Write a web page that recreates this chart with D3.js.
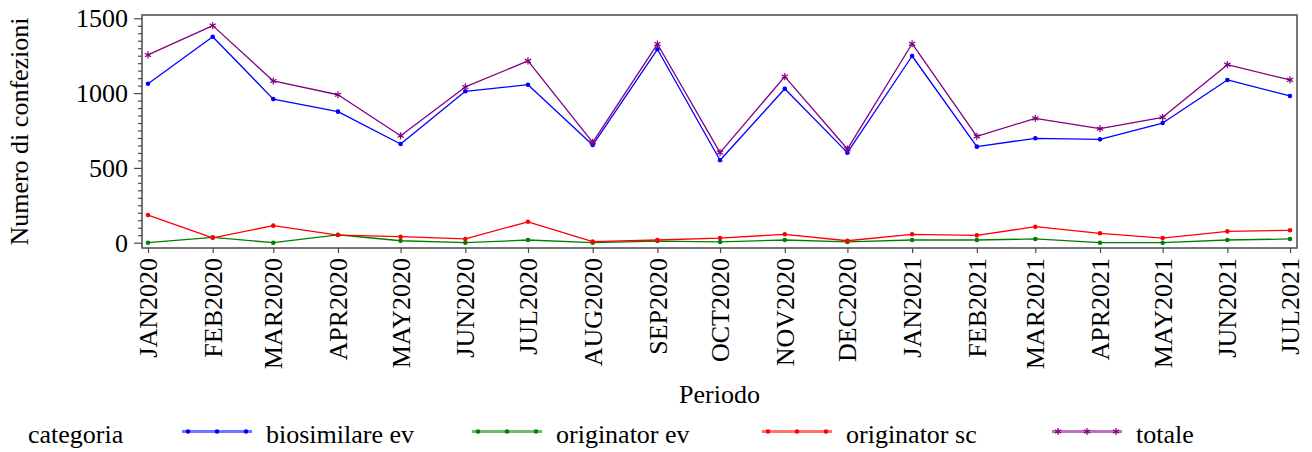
<!DOCTYPE html>
<html>
<head>
<meta charset="utf-8">
<script src="https://cdn.jsdelivr.net/npm/d3@7"></script>
<style>
  html, body { margin: 0; padding: 0; background: #fff; }
  svg { display: block; }
  svg text { font-family: "Liberation Serif", "Times New Roman", Times, serif !important; }
</style>
</head>
<body>
<svg id="chart" width="1312" height="452"></svg>
<script>
// ---- data ----
const periods = ["JAN2020","FEB2020","MAR2020","APR2020","MAY2020","JUN2020","JUL2020","AUG2020","SEP2020","OCT2020","NOV2020","DEC2020","JAN2021","FEB2021","MAR2021","APR2021","MAY2021","JUN2021","JUL2021"];
const periodDates = ["2020-01-01","2020-02-01","2020-03-01","2020-04-01","2020-05-01","2020-06-01","2020-07-01","2020-08-01","2020-09-01","2020-10-01","2020-11-01","2020-12-01","2021-01-01","2021-02-01","2021-03-01","2021-04-01","2021-05-01","2021-06-01","2021-07-01"];
const biosimilareEv = [1063,1377,960,876,660,1012,1056,653,1293,551,1029,602,1248,642,698,691,800,1088,981];
const originatorEv  = [0,36,0,53,13,0,18,0,11,5,18,5,18,18,25,0,0,18,25];
const originatorSc  = [185,33,114,51,40,25,140,7,18,31,56,13,56,49,107,63,31,76,83];
const totale        = [1255,1451,1081,989,715,1041,1215,671,1328,602,1110,626,1330,711,831,762,838,1190,1088];
const seriesNames   = ["biosimilare ev","originator ev","originator sc","totale"];
const seriesValues  = [biosimilareEv, originatorEv, originatorSc, totale];
const seriesColors  = ["#0000ff","#008000","#ff0000","#800080"];
const seriesMarkers = ["circle","circle","circle","asterisk"];
const yTicks = [0,500,1000,1500];
const yMinorStep = 50;
const xTitle = "Periodo";
const yTitle = "Numero di confezioni";
const legendTitle = "categoria";

// ---- layout ----
const svg = d3.select("#chart");
const frame = {left: 142, right: 1297, top: 15, bottom: 248};
const parse = d3.utcParse("%Y-%m-%d");
const dates = periodDates.map(parse);

const x = d3.scaleUtc().domain(d3.extent(dates)).range([148, 1290]);
const y = d3.scaleLinear().domain([0, 1500]).range([242.7, 18.3]);

const FONT = 26;
const FF = "'Liberation Serif', 'Times New Roman', Times, serif";
const frameColor = "#4a4a4a";

// frame
svg.append("rect")
  .attr("x", frame.left).attr("y", frame.top)
  .attr("width", frame.right - frame.left).attr("height", frame.bottom - frame.top)
  .attr("fill", "none").attr("stroke", frameColor).attr("stroke-width", 1.5);

// y axis major
const yAxisG = svg.append("g").attr("transform", `translate(${frame.left},0)`)
  .call(d3.axisLeft(y).tickValues(yTicks).tickSize(8).tickPadding(6).tickFormat(d3.format("d")));
// y axis minor
const minorVals = d3.range(0, 1500 + 1, yMinorStep).filter(v => !yTicks.includes(v));
const yMinorG = svg.append("g").attr("transform", `translate(${frame.left},0)`)
  .call(d3.axisLeft(y).tickValues(minorVals).tickSize(4).tickFormat(""));
[yAxisG, yMinorG].forEach(g => {
  g.attr("font-family", null).attr("font-size", null);
  g.select(".domain").remove();
  g.selectAll("line").attr("stroke", frameColor).attr("stroke-width", 1.2);
});
yAxisG.selectAll("text")
  .attr("font-size", FONT).attr("fill", "#000")
  .style("font-family", FF);

// x axis
const xAxisG = svg.append("g").attr("transform", `translate(0,${frame.bottom})`)
  .call(d3.axisBottom(x).tickValues(dates).tickSize(5).tickFormat((d, i) => periods[i]));
xAxisG.attr("font-family", null).attr("font-size", null);
xAxisG.select(".domain").remove();
xAxisG.selectAll("line").attr("stroke", frameColor).attr("stroke-width", 1.2);
xAxisG.selectAll("text")
  .attr("font-size", FONT).attr("fill", "#000")
  .style("font-family", FF)
  .attr("text-anchor", "end")
  .attr("transform", "translate(0,10) rotate(-90)")
  .attr("x", 0).attr("y", 0).attr("dy", "0.33em");

// axis titles
svg.append("text").attr("x", (frame.left + frame.right) / 2).attr("y", 403)
  .attr("text-anchor", "middle").attr("font-size", FONT).style("font-family", FF).text(xTitle);
svg.append("text").attr("transform", `translate(28,${(frame.top + frame.bottom) / 2}) rotate(-90)`)
  .attr("text-anchor", "middle").attr("font-size", FONT).style("font-family", FF).text(yTitle);

// marker helper
function drawMarker(g, type, cx, cy, color) {
  if (type === "circle") {
    g.append("circle").attr("cx", cx).attr("cy", cy).attr("r", 2.3).attr("fill", color);
  } else {
    g.append("path").attr("transform", `translate(${cx},${cy})`)
      .attr("d", d3.symbol(d3.symbolAsterisk, 36)())
      .attr("fill", "none").attr("stroke", color).attr("stroke-width", 1.2);
  }
}

// series
const line = d3.line().x(d => x(d.date)).y(d => y(d.value));
const plot = svg.append("g");
seriesNames.forEach((name, si) => {
  const pts = seriesValues[si].map((v, i) => ({date: dates[i], value: v}));
  const g = plot.append("g");
  g.append("path").datum(pts).attr("d", line)
    .attr("fill", "none").attr("stroke", seriesColors[si]).attr("stroke-width", 1.3)
    .attr("stroke-linejoin", "round");
  pts.forEach(p => drawMarker(g, seriesMarkers[si], x(p.date), y(p.value), seriesColors[si]));
});

// legend
const legendY = 431.5;
svg.append("text").attr("x", 28).attr("y", 443).attr("font-size", FONT).style("font-family", FF).text(legendTitle);
seriesNames.forEach((name, si) => {
  const x0 = 182 + si * 290;
  const g = svg.append("g");
  g.append("line").attr("x1", x0).attr("x2", x0 + 70).attr("y1", legendY).attr("y2", legendY)
    .attr("stroke", seriesColors[si]).attr("stroke-width", 3).attr("stroke-opacity", 0.55);
  [6, 35, 64].forEach(dx => drawMarker(g, seriesMarkers[si], x0 + dx, legendY, seriesColors[si]));
  g.append("text").attr("x", x0 + 84).attr("y", 443).attr("font-size", FONT).style("font-family", FF).text(name);
});
</script>
</body>
</html>
